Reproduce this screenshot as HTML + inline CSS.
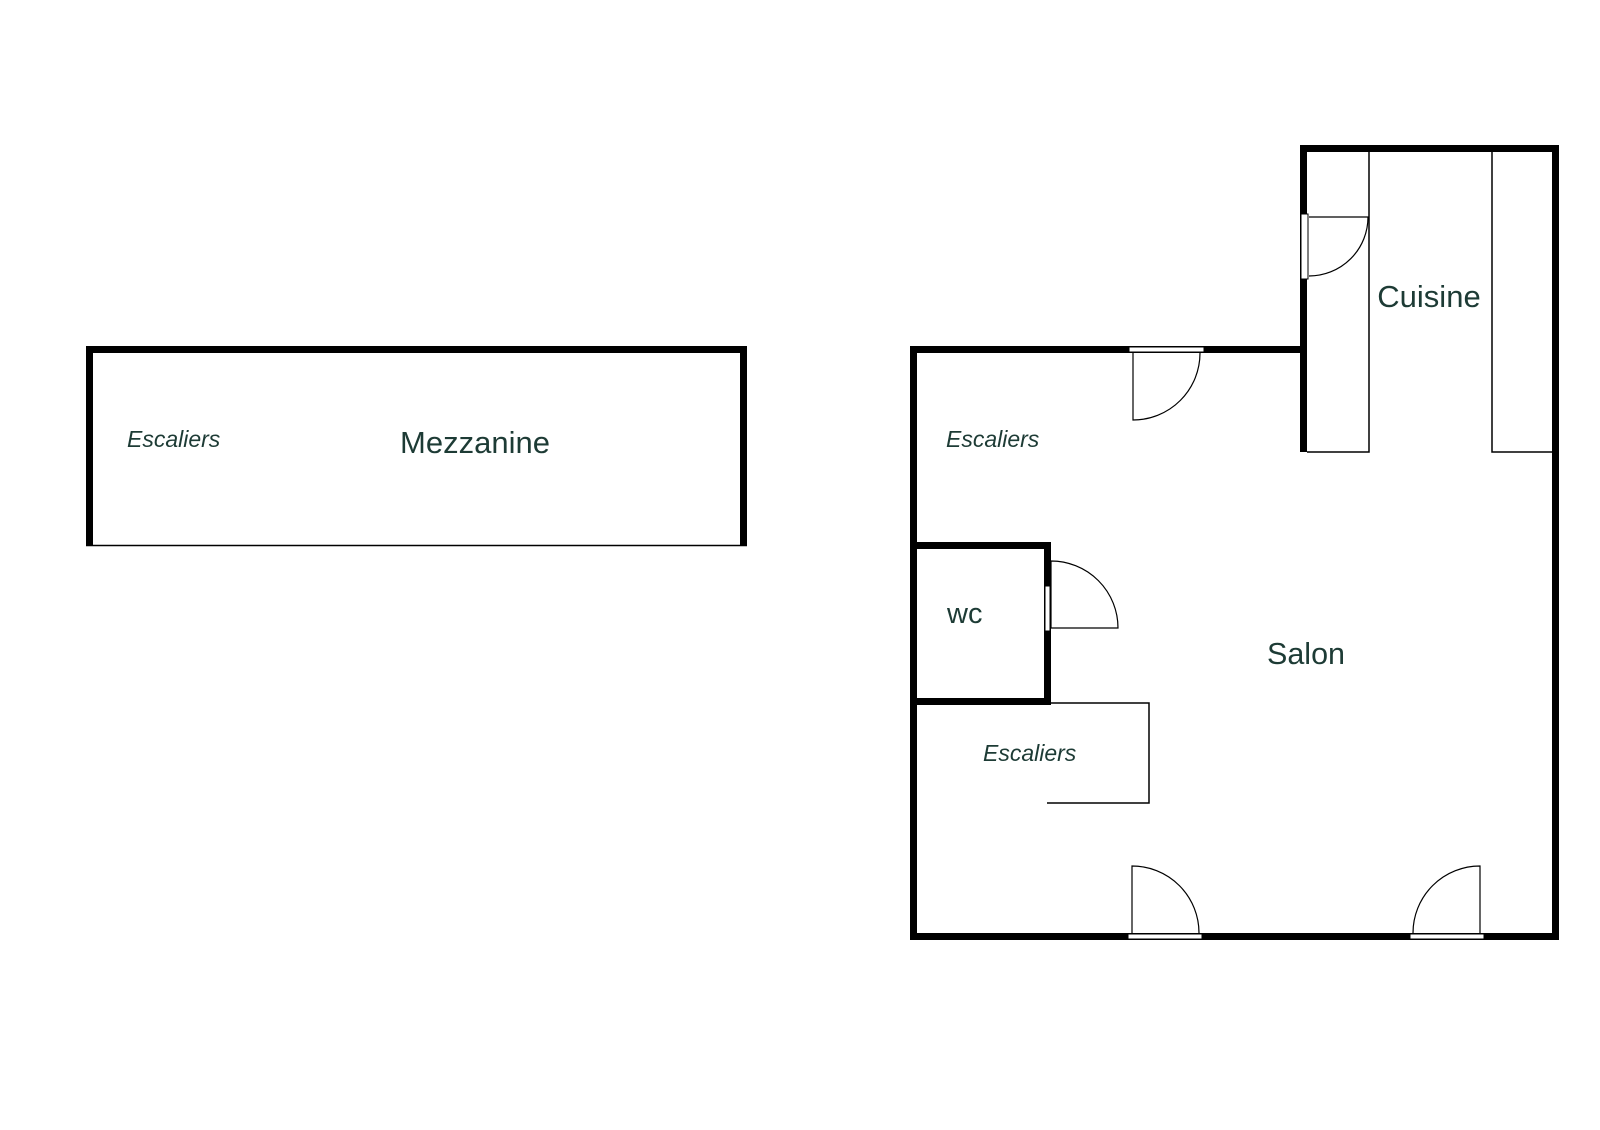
<!DOCTYPE html>
<html><head><meta charset="utf-8"><style>
html,body{margin:0;padding:0;background:#fff;}
svg{display:block}
text{font-family:"Liberation Sans",Arial,sans-serif;fill:#1d3b35}
</style></head><body>
<svg width="1600" height="1130" viewBox="0 0 1600 1130" xmlns="http://www.w3.org/2000/svg">
<rect width="1600" height="1130" fill="#fff"/>
<g fill="#000">
<rect x="86" y="346" width="661" height="7"/>
<rect x="86" y="346" width="7" height="200"/>
<rect x="740" y="346" width="7" height="200"/>
</g>
<line x1="86" y1="545.5" x2="747" y2="545.5" stroke="#000" stroke-width="1.5"/>
<text x="127" y="447" font-size="23" font-style="italic">Escaliers</text>
<text x="475" y="453" font-size="31" text-anchor="middle">Mezzanine</text>

<g fill="#000">
<rect x="910" y="346" width="397" height="7"/>
<rect x="910" y="346" width="7" height="594"/>
<rect x="910" y="933" width="649" height="7"/>
<rect x="1552" y="145" width="7" height="795"/>
<rect x="1300" y="145" width="259" height="7"/>
<rect x="1300" y="145" width="7" height="307"/>
<rect x="917" y="542" width="134" height="7"/>
<rect x="1044" y="542" width="7" height="163"/>
<rect x="917" y="698" width="134" height="7"/>
</g>
<g fill="none" stroke="#000" stroke-width="1.5">
<polyline points="1369,152 1369,452 1307,452"/>
<polyline points="1492,152 1492,452 1552,452"/>
<polyline points="1051,703 1149,703 1149,803 1047,803"/>
</g>

<g fill="#fff" stroke="#000" stroke-width="1">
<rect x="1301" y="214" width="7" height="65"/>
<rect x="1129" y="347" width="75" height="5"/>
<rect x="1045" y="586" width="5" height="45"/>
<rect x="1128" y="934" width="74" height="5"/>
<rect x="1410" y="934" width="74" height="5"/>
</g>
<g fill="none" stroke="#000" stroke-width="1.2">
<path d="M1309 217 H1368 A59 59 0 0 1 1309 276"/>
<path d="M1133 353 V420 A67 67 0 0 0 1200 353"/>
<path d="M1051 628 H1118 A67 67 0 0 0 1051 561 V628"/>
<path d="M1132 933 V866 A67 67 0 0 1 1199 933"/>
<path d="M1480 933 V866 A67 67 0 0 0 1413 933"/>
</g>

<text x="946" y="447" font-size="23" font-style="italic">Escaliers</text>
<text x="983" y="761" font-size="23" font-style="italic">Escaliers</text>
<text x="947" y="623" font-size="29">wc</text>
<text x="1306" y="664" font-size="30.5" text-anchor="middle">Salon</text>
<text x="1429" y="307" font-size="31" text-anchor="middle">Cuisine</text>
</svg>
</body></html>
